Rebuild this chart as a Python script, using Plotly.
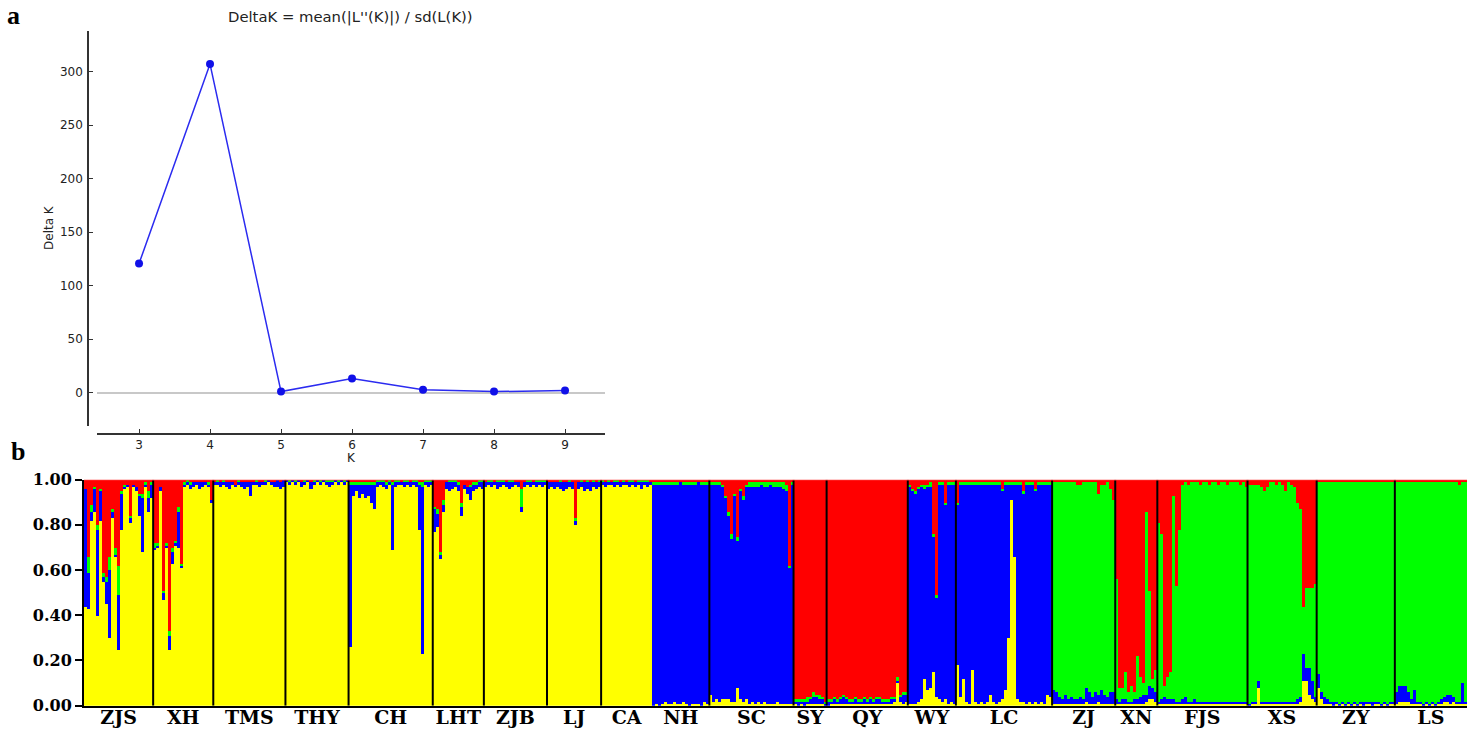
import plotly.graph_objects as go

# ---------------- Panel a: Delta K ----------------
K_VALUES = [3, 4, 5, 6, 7, 8, 9]
DELTA_K = [120.6, 307.0, 1.0, 13.2, 2.8, 1.0, 2.0]

# ---------------- Panel b: STRUCTURE membership ----------------
CLUSTER_COLORS = ["#ffff00", "#0000ff", "#00ff00", "#ff0000"]  # yellow, blue, green, red (bottom -> top)

POP_NAMES = ["ZJS", "XH", "TMS", "THY", "CH", "LHT", "ZJB", "LJ", "CA", "NH", "SC",
             "SY", "QY", "WY", "LC", "ZJ", "XN", "FJS", "XS", "ZY", "LS"]

# each row = one individual: [yellow, blue, green, red] in percent
ZJS = [[44, 52, 0, 4], [43, 16, 7, 34], [82, 4, 3, 11], [86, 10, 1, 3], [40, 38, 2, 20],
       [82, 13, 1, 4], [55, 2, 2, 41], [45, 10, 2, 43], [30, 30, 6, 34], [83, 3, 1, 13],
       [66, 1, 3, 30], [25, 24, 13, 38], [78, 16, 1, 5], [96, 1, 1, 2], [97, 1, 0, 2],
       [81, 2, 1, 16], [97, 1, 0, 2], [95, 2, 0, 3], [84, 9, 1, 6], [68, 24, 2, 6],
       [97, 1, 1, 1], [86, 6, 3, 5], [92, 6, 1, 1]]
XH = [[69, 1, 2, 28], [70, 1, 1, 28], [95, 2, 0, 3], [47, 3, 1, 49], [70, 1, 1, 28],
      [25, 6, 2, 67], [63, 5, 2, 30], [71, 1, 1, 27], [70, 16, 2, 12], [61, 1, 1, 37],
      [97, 1, 1, 1], [98, 1, 1, 0], [96, 2, 1, 1], [97, 2, 0, 1], [98, 1, 0, 1],
      [96, 3, 0, 1], [97, 2, 0, 1], [98, 1, 0, 1], [97, 1, 1, 1], [90, 1, 0, 9]]
TMS = [[98, 1, 0, 1], [98, 1, 1, 0], [97, 2, 0, 1], [98, 1, 1, 0], [97, 2, 0, 1],
       [96, 3, 0, 1], [98, 1, 0, 1], [97, 1, 0, 2], [98, 1, 1, 0], [97, 2, 0, 1],
       [96, 3, 0, 1], [97, 2, 0, 1], [93, 6, 0, 1], [98, 1, 0, 1], [98, 1, 1, 0],
       [97, 2, 0, 1], [98, 1, 0, 1], [98, 1, 1, 0], [99, 1, 0, 0], [98, 1, 0, 1],
       [97, 2, 0, 1], [97, 3, 0, 0], [96, 3, 0, 1], [97, 3, 0, 0]]
THY = [[99, 1, 0, 0], [98, 1, 1, 0], [99, 1, 0, 0], [98, 1, 1, 0], [99, 1, 0, 0],
       [97, 2, 0, 1], [98, 1, 1, 0], [99, 1, 0, 0], [96, 3, 0, 1], [98, 1, 1, 0],
       [99, 1, 0, 0], [98, 1, 1, 0], [99, 1, 0, 0], [98, 1, 1, 0], [97, 2, 1, 0],
       [98, 1, 1, 0], [99, 1, 0, 0], [98, 1, 1, 0], [99, 1, 0, 0], [98, 1, 1, 0],
       [99, 1, 0, 0]]
CH = [[26, 72, 1, 1], [93, 5, 1, 1], [95, 3, 1, 1], [92, 6, 1, 1], [94, 4, 1, 1],
      [92, 6, 1, 1], [93, 5, 1, 1], [90, 8, 1, 1], [87, 11, 1, 1], [97, 2, 1, 0],
      [98, 1, 1, 0], [97, 2, 1, 0], [96, 2, 1, 1], [98, 1, 1, 0], [69, 29, 1, 1],
      [97, 2, 1, 0], [98, 1, 1, 0], [98, 1, 0, 1], [97, 2, 1, 0], [98, 1, 1, 0],
      [97, 2, 0, 1], [98, 1, 1, 0], [97, 2, 1, 0], [78, 20, 1, 1], [23, 74, 2, 1],
      [98, 1, 1, 0], [97, 2, 1, 0], [98, 1, 1, 0]]
LHT = [[77, 10, 1, 12], [79, 6, 2, 13], [65, 2, 1, 32], [86, 3, 2, 9], [96, 3, 0, 1],
       [95, 4, 1, 0], [96, 3, 1, 0], [97, 2, 1, 0], [95, 3, 1, 1], [84, 4, 2, 10],
       [96, 2, 0, 2], [94, 3, 0, 3], [91, 6, 1, 2], [95, 3, 1, 1], [96, 2, 1, 1],
       [97, 2, 1, 0], [96, 3, 1, 0]]
ZJB = [[97, 2, 0, 1], [98, 1, 1, 0], [97, 2, 1, 0], [98, 1, 0, 1], [96, 3, 1, 0],
       [97, 2, 1, 0], [98, 1, 1, 0], [97, 2, 0, 1], [96, 3, 1, 0], [97, 2, 1, 0],
       [98, 1, 0, 1], [97, 2, 0, 1], [86, 2, 8, 4], [97, 2, 0, 1], [98, 1, 1, 0],
       [97, 2, 1, 0], [98, 1, 0, 1], [97, 2, 1, 0], [98, 1, 1, 0], [97, 2, 1, 0],
       [98, 1, 1, 0]]
LJ = [[96, 3, 0, 1], [97, 2, 0, 1], [96, 3, 0, 1], [97, 2, 0, 1], [96, 3, 1, 0],
      [95, 4, 0, 1], [96, 3, 0, 1], [97, 2, 1, 0], [96, 3, 0, 1], [80, 2, 1, 17],
      [96, 3, 0, 1], [97, 2, 1, 0], [95, 4, 0, 1], [96, 3, 1, 0], [95, 4, 0, 1],
      [97, 2, 1, 0], [96, 3, 0, 1], [97, 2, 1, 0]]
CA = [[98, 1, 1, 0], [97, 2, 0, 1], [98, 1, 1, 0], [98, 1, 0, 1], [97, 2, 1, 0],
      [98, 1, 1, 0], [97, 2, 0, 1], [98, 1, 1, 0], [98, 1, 0, 1], [97, 2, 1, 0],
      [98, 1, 1, 0], [97, 2, 0, 1], [98, 1, 1, 0], [96, 3, 1, 0], [98, 1, 1, 0],
      [97, 2, 1, 0], [98, 1, 0, 1]]
NH = [[0, 98, 1, 1], [1, 97, 1, 1], [0, 98, 1, 1], [1, 97, 1, 1], [2, 96, 1, 1],
      [1, 97, 1, 1], [1, 97, 1, 1], [2, 96, 1, 1], [1, 97, 1, 1], [1, 98, 0, 1],
      [2, 96, 1, 1], [1, 97, 1, 1], [0, 98, 1, 1], [1, 97, 1, 1], [1, 97, 1, 1],
      [1, 98, 0, 1], [0, 98, 1, 1], [2, 96, 1, 1], [1, 97, 1, 1]]
SC = [[5, 93, 1, 1], [2, 96, 1, 1], [3, 95, 1, 1], [2, 96, 1, 1], [3, 94, 1, 2],
      [3, 89, 1, 7], [3, 81, 2, 14], [2, 72, 2, 24], [2, 91, 1, 6], [8, 65, 2, 25],
      [3, 92, 1, 4], [2, 89, 2, 7], [3, 94, 1, 2], [1, 96, 2, 1], [2, 95, 2, 1],
      [1, 96, 2, 1], [2, 95, 2, 1], [1, 97, 1, 1], [2, 95, 2, 1], [1, 96, 2, 1],
      [1, 97, 1, 1], [1, 96, 2, 1], [2, 95, 2, 1], [1, 96, 2, 1], [1, 95, 3, 1],
      [1, 94, 3, 2], [1, 60, 1, 38], [1, 97, 1, 1]]
SY = [[1, 1, 1, 97], [0, 2, 1, 97], [1, 1, 1, 97], [0, 2, 1, 97], [1, 1, 2, 96],
      [1, 2, 1, 96], [1, 3, 2, 94], [1, 3, 1, 95], [1, 2, 2, 95], [1, 2, 1, 96],
      [0, 1, 1, 98]]
QY = [[0, 2, 1, 97], [1, 1, 1, 97], [1, 2, 1, 96], [1, 1, 1, 97], [1, 2, 1, 96],
      [1, 3, 1, 95], [1, 2, 1, 96], [1, 1, 1, 97], [1, 1, 1, 97], [1, 2, 1, 96],
      [1, 1, 1, 97], [1, 1, 1, 97], [1, 2, 1, 96], [1, 1, 1, 97], [1, 2, 1, 96],
      [1, 1, 1, 97], [1, 2, 1, 96], [1, 2, 1, 96], [1, 1, 1, 97], [1, 1, 1, 97],
      [1, 1, 1, 97], [1, 2, 1, 96], [2, 1, 1, 96], [10, 1, 2, 87], [2, 2, 1, 95],
      [1, 4, 1, 94], [2, 3, 1, 94]]
WY = [[1, 96, 1, 2], [1, 94, 1, 4], [1, 93, 1, 5], [2, 94, 1, 3], [3, 94, 1, 2],
      [12, 84, 2, 2], [7, 90, 1, 2], [8, 89, 2, 1], [15, 60, 1, 24], [4, 44, 1, 51],
      [3, 95, 1, 1], [2, 96, 1, 1], [3, 86, 1, 10], [1, 97, 1, 1], [2, 96, 1, 1],
      [1, 97, 1, 1]]
LC = [[18, 71, 1, 10], [4, 94, 1, 1], [12, 86, 1, 1], [2, 96, 1, 1], [1, 97, 1, 1],
      [16, 82, 1, 1], [2, 96, 1, 1], [1, 97, 1, 1], [2, 96, 1, 1], [1, 97, 1, 1],
      [2, 96, 1, 1], [5, 93, 1, 1], [2, 96, 1, 1], [1, 97, 1, 1], [2, 96, 1, 1],
      [3, 92, 1, 4], [7, 91, 1, 1], [30, 68, 1, 1], [91, 7, 1, 1], [66, 32, 1, 1],
      [3, 95, 1, 1], [2, 96, 1, 1], [2, 92, 1, 5], [1, 97, 1, 1], [2, 96, 1, 1],
      [1, 97, 1, 1], [2, 93, 1, 4], [1, 97, 1, 1], [2, 96, 1, 1], [1, 97, 1, 1],
      [5, 93, 1, 1], [4, 94, 1, 1]]
ZJ = [[1, 6, 92, 1], [1, 5, 93, 1], [1, 3, 95, 1], [1, 2, 96, 1], [1, 4, 94, 1],
      [1, 2, 96, 1], [1, 3, 95, 1], [1, 2, 96, 1], [1, 2, 95, 2], [1, 3, 94, 2],
      [1, 2, 96, 1], [2, 6, 91, 1], [1, 5, 93, 1], [1, 3, 95, 1], [1, 5, 93, 1],
      [2, 3, 89, 6], [1, 6, 91, 2], [1, 4, 93, 2], [1, 3, 95, 1], [1, 5, 90, 4],
      [1, 5, 85, 9]]
XN = [[1, 2, 53, 44], [1, 1, 6, 92], [1, 2, 5, 92], [1, 2, 12, 85], [1, 1, 4, 94],
      [1, 1, 7, 91], [1, 2, 3, 94], [1, 2, 19, 78], [1, 3, 9, 87], [1, 4, 5, 90],
      [2, 3, 81, 14], [3, 6, 42, 49], [3, 5, 4, 88], [2, 4, 10, 84]]
FJS = [[1, 1, 79, 19], [1, 2, 73, 24], [1, 3, 5, 91], [1, 2, 10, 87], [1, 2, 12, 85],
       [1, 2, 90, 7], [1, 1, 51, 47], [1, 1, 76, 22], [1, 2, 95, 2], [1, 3, 95, 1],
       [1, 1, 96, 2], [1, 1, 97, 1], [1, 2, 96, 1], [1, 1, 97, 1], [1, 1, 96, 2],
       [1, 1, 97, 1], [1, 1, 97, 1], [1, 1, 96, 2], [1, 1, 97, 1], [1, 1, 97, 1],
       [1, 1, 96, 2], [1, 1, 97, 1], [1, 1, 97, 1], [1, 1, 96, 2], [1, 1, 97, 1],
       [1, 1, 97, 1], [1, 1, 97, 1], [1, 1, 96, 2], [1, 1, 97, 1], [1, 1, 95, 3]]
XS = [[0, 1, 97, 2], [1, 1, 96, 2], [1, 1, 96, 2], [8, 3, 87, 2], [1, 1, 95, 3],
      [1, 1, 93, 5], [1, 1, 95, 3], [1, 1, 97, 1], [1, 1, 97, 1], [1, 1, 96, 2],
      [1, 1, 97, 1], [1, 1, 96, 2], [1, 1, 93, 5], [1, 1, 97, 1], [1, 1, 96, 2],
      [1, 1, 95, 3], [1, 2, 87, 10], [2, 2, 83, 13], [11, 12, 21, 56], [11, 6, 35, 48],
      [5, 12, 35, 48], [3, 8, 41, 48], [2, 2, 50, 46]]
ZY = [[8, 6, 85, 1], [3, 3, 93, 1], [1, 3, 95, 1], [1, 2, 96, 1], [1, 1, 97, 1],
      [0, 2, 97, 1], [1, 1, 97, 1], [0, 1, 98, 1], [1, 1, 97, 1], [0, 1, 98, 1],
      [1, 1, 97, 1], [0, 1, 98, 1], [1, 1, 97, 1], [0, 1, 98, 1], [1, 1, 97, 1],
      [0, 2, 97, 1], [1, 1, 97, 1], [1, 1, 97, 1], [0, 2, 97, 1], [1, 1, 97, 1],
      [1, 1, 97, 1], [0, 1, 98, 1], [1, 1, 97, 1], [0, 1, 98, 1], [1, 1, 97, 1],
      [1, 1, 97, 1]]
LS = [[1, 5, 93, 1], [2, 7, 90, 1], [2, 7, 90, 1], [2, 7, 90, 1], [2, 4, 93, 1],
      [1, 2, 96, 1], [1, 6, 92, 1], [1, 1, 97, 1], [1, 1, 97, 1], [0, 1, 98, 1],
      [1, 1, 97, 1], [0, 1, 98, 1], [1, 1, 97, 1], [0, 1, 98, 1], [1, 1, 97, 1],
      [1, 2, 96, 1], [2, 2, 95, 1], [2, 3, 94, 1], [1, 4, 94, 1], [2, 2, 95, 1],
      [1, 1, 97, 1], [1, 1, 96, 2], [1, 9, 89, 1], [1, 1, 97, 1]]

POPS = [ZJS, XH, TMS, THY, CH, LHT, ZJB, LJ, CA, NH, SC, SY, QY, WY, LC, ZJ, XN, FJS, XS, ZY, LS]
NO_DIVIDER_AFTER = ["CA"]

# ---------------- layout helpers ----------------
W, H = 1473, 734
Y_OFF, Y_SCALE = 8.4, 0.974   # compensation for the vertical placement seen in the rendered page


def px(x):
    return x / W


def py(y):
    return 1 - (y - Y_OFF) / Y_SCALE / H


fig = go.Figure()

# panel a
fig.add_trace(go.Scatter(
    x=K_VALUES, y=DELTA_K, mode="lines+markers",
    line=dict(color="#2b2bf0", width=1.5),
    marker=dict(color="#1010e8", size=8),
    xaxis="x", yaxis="y", showlegend=False, hoverinfo="skip"))

# panel b
rows = [r for pop in POPS for r in pop]
fractions = [[v / sum(r) for v in r] for r in rows]
xs = list(range(len(rows)))
for c in range(4):
    fig.add_trace(go.Bar(
        x=xs, y=[f[c] for f in fractions], width=1.0,
        marker=dict(color=CLUSTER_COLORS[c], line=dict(width=0)),
        xaxis="x2", yaxis="y2", showlegend=False, hoverinfo="skip"))

bounds = [0]
for pop in POPS:
    bounds.append(bounds[-1] + len(pop))
centers = [(bounds[i] + bounds[i + 1] - 1) / 2 for i in range(len(POPS))]

shapes = []
for i in range(1, len(POPS)):
    if POP_NAMES[i - 1] in NO_DIVIDER_AFTER:
        continue
    shapes.append(dict(type="line", xref="x2", yref="y2",
                       x0=bounds[i] - 0.5, x1=bounds[i] - 0.5, y0=0, y1=1,
                       line=dict(color="black", width=2)))
# thin red line along the top edge of the bar plot
shapes.append(dict(type="line", xref="x2 domain", yref="y2", x0=0, x1=1, y0=1, y1=1,
                   line=dict(color="#ff3030", width=1.5)))

sans = "DejaVu Sans"
serif = "DejaVu Serif"
axis_font = dict(family=sans, size=12, color="#222")

fig.update_layout(
    width=W, height=H, margin=dict(l=0, r=0, t=0, b=0),
    paper_bgcolor="white", plot_bgcolor="white",
    barmode="stack", bargap=0,
    shapes=shapes,
    xaxis=dict(domain=[px(97), px(605)], range=[2.408, 9.563], anchor="free",
               position=py(433), tickvals=K_VALUES, showgrid=False, zeroline=False,
               showline=True, linecolor="#333", linewidth=1.5, ticks="inside", ticklen=4,
               tickcolor="#333", tickfont=axis_font),
    yaxis=dict(domain=[py(425), py(30)], range=[-30.8, 338.3], anchor="free",
               position=px(88), tickvals=[0, 50, 100, 150, 200, 250, 300], showgrid=False,
               zeroline=True, zerolinecolor="#c8c8c8", zerolinewidth=1.5,
               showline=True, linecolor="#333", linewidth=1.5, ticks="inside", ticklen=4,
               tickcolor="#333", tickfont=axis_font, ticklabelstandoff=2,
               title=dict(text="Delta K", font=axis_font, standoff=3)),
    xaxis2=dict(domain=[px(84), px(1467)], range=[-0.5, len(rows) - 0.5], anchor="y2",
                tickvals=centers, ticktext=POP_NAMES, ticks="", showgrid=False, zeroline=False,
                showline=True, linecolor="black", linewidth=2, ticklabelstandoff=-6,
                tickfont=dict(family=serif, size=19, color="black", weight="bold")),
    yaxis2=dict(domain=[py(705), py(479)], range=[0, 1], anchor="x2",
                tickvals=[0, 0.2, 0.4, 0.6, 0.8, 1.0], tickformat=".2f", showgrid=False,
                zeroline=False, showline=True, linecolor="black", linewidth=2,
                ticks="outside", ticklen=7, tickwidth=2, tickcolor="black",
                tickfont=dict(family=serif, size=16, color="black", weight="bold")),
    annotations=[
        dict(text="DeltaK = mean(|L''(K)|) / sd(L(K))", x=px(350), y=py(16),
             xref="paper", yref="paper", xanchor="center", yanchor="middle", showarrow=False,
             font=dict(family=sans, size=14.8, color="#222")),
        dict(text="K", x=px(351), y=py(457), xref="paper", yref="paper",
             xanchor="center", yanchor="middle", showarrow=False, font=axis_font),
        dict(text="<b>a</b>", x=px(14), y=py(15), xref="paper", yref="paper",
             xanchor="center", yanchor="middle",
             showarrow=False, font=dict(family="Liberation Serif", size=26, color="black")),
        dict(text="<b>b</b>", x=px(18), y=py(451), xref="paper", yref="paper",
             xanchor="center", yanchor="middle",
             showarrow=False, font=dict(family="Liberation Serif", size=26, color="black")),
    ],
)

fig.write_html("out.html", config={"displayModeBar": False},
               post_script="document.body.style.margin='0px';")
